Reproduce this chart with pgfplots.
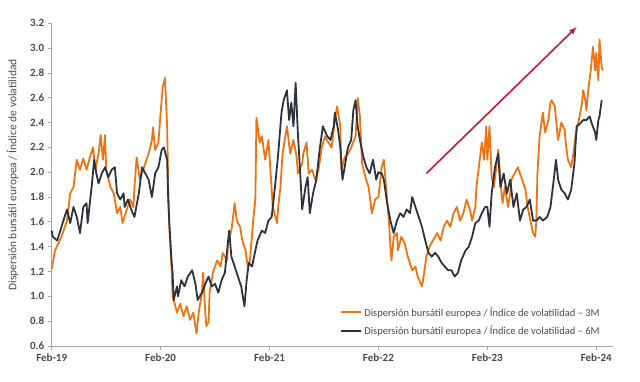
\documentclass[border=0pt]{standalone}
\usepackage{pgfplots}
\usepackage{pgfplotstable}
\pgfplotsset{compat=1.18}
\usepackage{fontspec}
\setmainfont{Carlito}
\definecolor{orangeS}{RGB}{236,116,20}
\definecolor{darkS}{RGB}{44,50,62}
\definecolor{axgray}{RGB}{166,166,166}
\definecolor{txtgray}{RGB}{75,75,75}
\definecolor{arrowred}{RGB}{190,30,45}

\pgfplotstableread{
t v
0.00 1.22
0.03 1.37
0.09 1.48
0.14 1.61
0.17 1.83
0.20 1.88
0.23 2.10
0.26 2.02
0.29 2.11
0.32 2.02
0.35 2.12
0.38 2.20
0.40 2.02
0.43 2.15
0.45 2.30
0.47 2.10
0.49 2.30
0.50 2.02
0.54 1.88
0.57 1.83
0.60 1.67
0.63 1.72
0.65 1.59
0.69 1.70
0.72 1.78
0.75 1.72
0.76 1.88
0.78 2.12
0.81 1.94
0.84 2.02
0.87 2.10
0.90 2.18
0.92 2.26
0.93 2.36
0.95 2.18
0.98 2.24
1.00 2.48
1.02 2.69
1.04 2.76
1.06 2.37
1.07 1.88
1.08 1.56
1.10 1.24
1.11 1.00
1.13 0.94
1.15 0.87
1.18 0.94
1.21 0.84
1.24 0.92
1.27 0.81
1.30 0.87
1.33 0.70
1.35 0.87
1.38 1.03
1.39 1.19
1.41 0.87
1.42 0.76
1.44 0.79
1.45 1.03
1.48 1.19
1.52 1.29
1.55 1.24
1.57 1.35
1.61 1.29
1.62 1.45
1.65 1.53
1.68 1.75
1.70 1.61
1.73 1.56
1.75 1.45
1.78 1.37
1.80 1.24
1.82 1.29
1.85 1.61
1.87 1.78
1.88 2.44
1.91 2.24
1.93 2.29
1.96 2.10
1.99 2.26
2.01 2.00
2.03 1.72
2.07 1.59
2.08 1.72
2.10 1.88
2.12 2.15
2.16 2.37
2.19 2.15
2.22 2.26
2.25 2.12
2.26 1.99
2.30 2.07
2.31 2.15
2.34 2.24
2.36 1.99
2.39 2.02
2.42 1.94
2.45 2.02
2.48 2.20
2.51 2.29
2.54 2.24
2.57 2.20
2.60 2.42
2.62 2.53
2.65 2.37
2.66 2.02
2.69 2.12
2.72 2.15
2.75 2.20
2.79 2.29
2.81 2.60
2.83 2.45
2.85 2.07
2.88 1.96
2.91 1.88
2.94 1.67
2.97 1.78
3.00 1.80
3.03 2.04
3.05 2.10
3.08 1.78
3.10 1.56
3.11 1.40
3.12 1.29
3.14 1.48
3.17 1.51
3.18 1.37
3.21 1.48
3.24 1.43
3.27 1.32
3.31 1.21
3.34 1.24
3.36 1.16
3.40 1.08
3.42 1.19
3.44 1.32
3.47 1.40
3.50 1.45
3.54 1.51
3.57 1.45
3.60 1.56
3.63 1.61
3.66 1.56
3.69 1.67
3.72 1.72
3.75 1.61
3.78 1.67
3.81 1.78
3.84 1.70
3.86 1.61
3.89 1.72
3.90 1.88
3.93 2.10
3.95 2.24
3.97 2.10
3.99 2.37
4.00 2.10
4.02 2.37
4.04 1.96
4.06 1.88
4.09 2.10
4.10 2.18
4.12 1.94
4.13 1.83
4.14 1.75
4.16 1.88
4.18 1.78
4.19 1.72
4.21 1.83
4.22 1.94
4.25 1.99
4.28 2.04
4.32 1.94
4.35 1.86
4.37 1.72
4.40 1.59
4.42 1.51
4.44 1.48
4.45 1.61
4.46 1.99
4.48 2.29
4.51 2.48
4.53 2.32
4.56 2.42
4.58 2.56
4.59 2.58
4.62 2.53
4.64 2.34
4.65 2.26
4.68 2.40
4.71 2.34
4.72 2.24
4.74 2.10
4.77 2.04
4.79 2.15
4.81 2.29
4.84 2.42
4.87 2.56
4.88 2.66
4.90 2.58
4.91 2.50
4.93 2.69
4.95 2.82
4.97 3.01
4.99 2.82
5.00 2.96
5.02 2.74
5.03 3.07
5.05 2.85
5.06 2.82
}\threeM

\pgfplotstableread{
t v
0.00 1.53
0.01 1.48
0.05 1.45
0.08 1.53
0.10 1.59
0.14 1.70
0.17 1.59
0.20 1.72
0.23 1.64
0.26 1.51
0.29 1.72
0.32 1.75
0.33 1.59
0.37 1.91
0.39 2.10
0.41 1.99
0.43 1.91
0.46 1.99
0.49 2.04
0.52 1.96
0.55 2.02
0.58 2.04
0.60 1.83
0.63 1.78
0.66 1.83
0.67 1.72
0.70 1.78
0.73 1.70
0.76 1.64
0.80 1.83
0.83 2.04
0.86 1.99
0.89 1.94
0.92 1.80
0.95 1.99
0.98 2.04
1.01 2.18
1.03 2.20
1.06 2.10
1.07 1.78
1.08 1.59
1.10 1.29
1.11 1.19
1.12 0.97
1.15 1.08
1.16 1.00
1.19 1.13
1.22 1.08
1.25 1.16
1.29 1.21
1.32 1.10
1.34 0.97
1.38 1.03
1.41 1.10
1.44 1.16
1.47 1.08
1.50 1.10
1.53 1.03
1.56 1.13
1.59 1.19
1.62 1.45
1.63 1.53
1.65 1.32
1.68 1.24
1.71 1.16
1.74 1.08
1.77 0.92
1.79 1.13
1.81 1.27
1.84 1.24
1.87 1.37
1.89 1.45
1.93 1.53
1.96 1.51
1.99 1.61
2.02 1.64
2.05 1.88
2.08 2.15
2.11 2.48
2.13 2.58
2.16 2.66
2.18 2.42
2.20 2.56
2.22 2.37
2.24 2.72
2.26 2.32
2.28 2.02
2.30 1.70
2.33 1.88
2.35 1.96
2.37 1.67
2.40 1.83
2.43 1.94
2.46 2.18
2.49 2.37
2.53 2.29
2.56 2.26
2.59 2.37
2.60 2.48
2.63 2.34
2.65 2.20
2.67 1.94
2.69 2.04
2.72 2.20
2.75 2.26
2.77 2.50
2.79 2.58
2.81 2.37
2.83 2.26
2.86 2.13
2.89 2.04
2.92 1.99
2.95 2.10
2.98 1.94
3.00 2.00
3.03 1.99
3.05 1.94
3.08 1.75
3.11 1.61
3.14 1.51
3.17 1.61
3.20 1.67
3.23 1.64
3.26 1.70
3.29 1.67
3.31 1.80
3.34 1.72
3.37 1.64
3.40 1.56
3.43 1.45
3.46 1.35
3.49 1.32
3.52 1.35
3.55 1.32
3.58 1.27
3.61 1.24
3.64 1.21
3.67 1.21
3.70 1.16
3.73 1.19
3.76 1.29
3.80 1.37
3.83 1.40
3.86 1.48
3.89 1.59
3.92 1.61
3.95 1.67
3.98 1.72
4.00 1.72
4.02 1.56
4.04 1.83
4.07 2.04
4.10 2.15
4.12 1.88
4.15 1.99
4.18 1.83
4.21 1.94
4.24 1.72
4.27 1.83
4.30 1.61
4.33 1.70
4.36 1.72
4.39 1.78
4.42 1.61
4.45 1.61
4.48 1.64
4.51 1.61
4.55 1.64
4.58 1.72
4.61 1.94
4.63 2.10
4.65 1.94
4.68 1.86
4.71 1.83
4.74 1.78
4.77 1.86
4.80 2.07
4.82 2.37
4.85 2.39
4.88 2.42
4.91 2.42
4.94 2.45
4.96 2.39
4.99 2.32
5.00 2.26
5.02 2.42
5.03 2.45
5.05 2.58
}\sixM

\begin{document}
\begin{tikzpicture}
\begin{axis}[
  at={(51.7pt,36pt)}, anchor=south west,
  scale only axis,
  width=561.3pt, height=322.7pt,
  xmin=0, xmax=5.154, ymin=0.6, ymax=3.2,
  axis x line=bottom, axis y line=left,
  axis line style={-, draw=axgray, line width=0.8pt},
  tick style={draw=axgray, line width=0.8pt},
  tick align=outside, major tick length=4pt,
  xtick={0,1,2,3,4,5},
  xticklabels={Feb-19,Feb-20,Feb-21,Feb-22,Feb-23,Feb-24},
  ytick={0.6,0.8,...,3.21},
  yticklabel style={/pgf/number format/.cd, fixed, fixed zerofill, precision=1, assume math mode=true},
  ticklabel style={font=\fontsize{11}{13}\selectfont\bfseries, text=txtgray},
  every axis y label/.style={at={(axis description cs:-0.07,0.53)}, anchor=center, rotate=90},
  ylabel={Dispersión bursátil europea / Índice de volatilidad},
  ylabel style={font=\fontsize{11.5}{13}\selectfont, text=txtgray},
  legend style={draw=none, fill=none, at={(axis cs:2.65,0.93)}, anchor=north west,
     font=\fontsize{10.5}{12}\selectfont, text=txtgray, row sep=4pt, inner sep=0pt},
  legend cell align=left,
  legend image code/.code={\draw[#1] (0pt,0pt) -- (20pt,0pt);},
  clip=false,
]
\addplot[orangeS, line width=1.8pt, line join=round] table[x=t,y=v] {\threeM};
\addlegendentry{Dispersión bursátil europea / Índice de volatilidad – 3M}
\addplot[darkS, line width=1.8pt, line join=round] table[x=t,y=v] {\sixM};
\addlegendentry{Dispersión bursátil europea / Índice de volatilidad – 6M}
\draw[arrowred, line width=1.6pt, -{latex}] (axis cs:3.44,1.99) -- (axis cs:4.82,3.17);
\end{axis}
\pgfresetboundingbox
\useasboundingbox (0pt,0pt) rectangle (640pt,382pt);
\end{tikzpicture}
\end{document}
